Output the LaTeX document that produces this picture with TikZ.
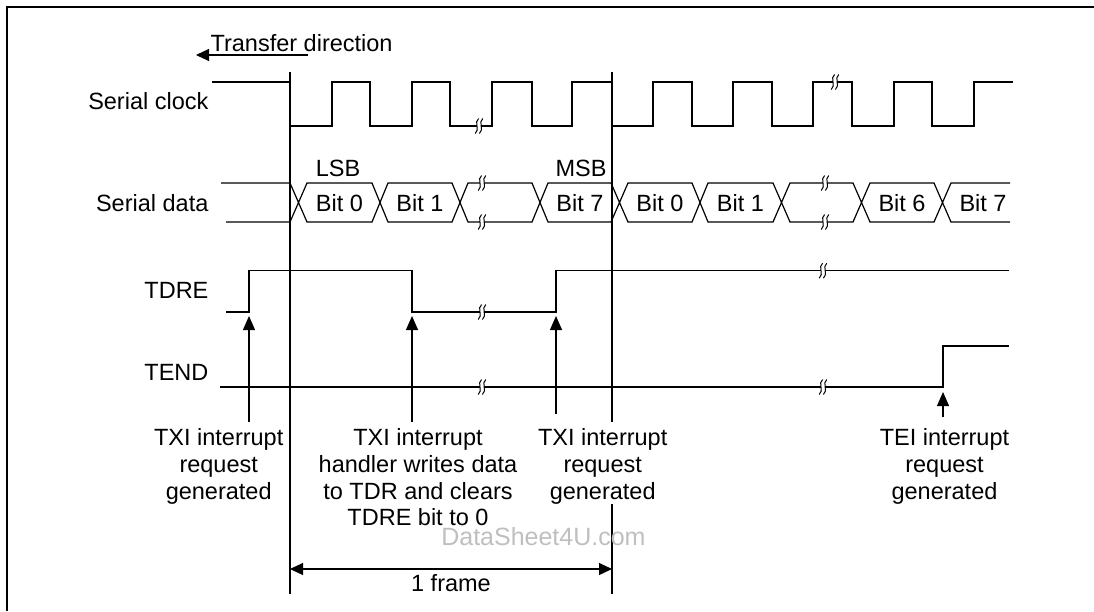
\documentclass[tikz,border=0pt]{standalone}
\usepackage{fontspec}
\setmainfont{Liberation Sans}
\usetikzlibrary{arrows.meta}
\begin{document}
\begin{tikzpicture}[x=1pt,y=-1pt,line width=1.2pt,line join=miter,
  every node/.style={inner sep=0pt,font=\fontsize{23.5}{26.7}\selectfont},
  uptip/.style={-{Triangle[width=12pt,length=14pt]}},
  lbl/.style={anchor=base east},
  bitlbl/.style={anchor=base},
  note/.style={anchor=north,align=center},
  brk/.pic={
    \fill[white] (-2.2,-8) rectangle (2.2,8);
    \draw[line width=1pt] (-0.4,-7.5) .. controls (-5.5,-4) and (1.5,3.5) .. (-3.8,7.5);
    \draw[line width=1pt] (3.8,-7.5) .. controls (-1.3,-4) and (5.7,3.5) .. (0.4,7.5);
  }]
\useasboundingbox (0,0) rectangle (1094,611);
% frame border
\draw[line width=1.5pt] (7,611) -- (7,7) -- (1094,7);

% transfer direction
\node[anchor=base west] (tdir) at (210,51) {Transfer direction};
\coordinate (tdirA) at (308,55);
\coordinate (tdirB) at (196,55);
\draw[-{Triangle[width=12pt,length=13pt]}] (tdirA) -- (tdirB);

% frame lines
\coordinate (f1t) at (290,72); \coordinate (f1b) at (290,594);
\coordinate (f2t) at (612,72); \coordinate (f2m) at (612,422);
\coordinate (f2n) at (612,504); \coordinate (f2b) at (612,594);
\draw (f1t) -- (f1b);
\draw (f2t) -- (f2m);
\draw (f2n) -- (f2b);

% labels
\node[lbl] (sclk) at (209,109.5) {Serial clock};
\node[lbl] (sdat) at (209,211.5) {Serial data};
\node[lbl] (tdre) at (209,298) {TDRE};
\node[lbl] (tend) at (209,380) {TEND};

% serial clock
\draw (212,82) -- (290,82) -- (290,126) -- (332,126) -- (332,82) -- (370,82) -- (370,126)
  -- (412,126) -- (412,82) -- (450,82) -- (450,126) -- (492,126) -- (492,82) -- (532,82)
  -- (532,126) -- (572,126) -- (572,82) -- (612,82) -- (612,126) -- (653,126) -- (653,82)
  -- (692,82) -- (692,126) -- (733,126) -- (733,82) -- (772,82) -- (772,126) -- (813,126)
  -- (813,82) -- (852,82) -- (852,126) -- (894,126) -- (894,82) -- (932,82) -- (932,126)
  -- (974,126) -- (974,82) -- (1013,82);
\pic at (479,126) {brk};
\pic at (835,82) {brk};

% serial data
\draw (221,183) -- (290,183) -- (298.5,202.5) -- (307,183) -- (372,183) -- (380,202.5)
  -- (388,183) -- (452,183) -- (460,202.5) -- (468,183) -- (532,183) -- (540,202.5)
  -- (548,183) -- (611,183) -- (619.5,202.5) -- (628,183) -- (692,183) -- (700,202.5)
  -- (708,183) -- (773,183) -- (781.5,202.5) -- (790,183) -- (853,183) -- (861.5,202.5)
  -- (870,183) -- (934,183) -- (942.5,202.5) -- (951,183) -- (1010,183);
\draw (226,222) -- (290,222) -- (298.5,202.5) -- (307,222) -- (372,222) -- (380,202.5)
  -- (388,222) -- (452,222) -- (460,202.5) -- (468,222) -- (532,222) -- (540,202.5)
  -- (548,222) -- (611,222) -- (619.5,202.5) -- (628,222) -- (692,222) -- (700,202.5)
  -- (708,222) -- (773,222) -- (781.5,202.5) -- (790,222) -- (853,222) -- (861.5,202.5)
  -- (870,222) -- (934,222) -- (942.5,202.5) -- (951,222) -- (1010,222);
\pic at (482,183) {brk};
\pic at (482,222) {brk};
\pic at (825,183) {brk};
\pic at (825,222) {brk};
\node[bitlbl] (lsb) at (338,176.7) {LSB};
\node[bitlbl] (msb) at (581,176.7) {MSB};
\node[bitlbl] (b0a) at (339.5,211.7) {Bit 0};
\node[bitlbl] (b1a) at (420,211.7) {Bit 1};
\node[bitlbl] (b7a) at (580,211.7) {Bit 7};
\node[bitlbl] (b0b) at (660,211.7) {Bit 0};
\node[bitlbl] (b1b) at (740.5,211.7) {Bit 1};
\node[bitlbl] (b6b) at (902,211.7) {Bit 6};
\node[bitlbl] (b7b) at (983,211.7) {Bit 7};

% TDRE
\draw (226,312) -- (249,312) -- (249,270.7) -- (412,270.7) -- (412,312) -- (556,312)
  -- (556,270.7) -- (1009,270.7);
\pic at (482,312) {brk};
\pic at (823,270.7) {brk};

% TEND
\draw (220,387) -- (943,387) -- (943,346) -- (1009,346);
\pic at (482,387) {brk};
\pic at (823,387) {brk};

% notes and arrows
\node[note] (n1) at (218.7,428) {TXI interrupt\\request\\generated};
\node[note] (n2) at (418,428) {TXI interrupt\\handler writes data\\to TDR and clears\\TDRE bit to 0};
\node[note] (n3) at (602.7,428) {TXI interrupt\\request\\generated};
\node[note] (n4) at (944.5,428) {TEI interrupt\\request\\generated};
\coordinate (a1s) at (249,422); \coordinate (a1e) at (249,316);
\coordinate (a2s) at (412,422); \coordinate (a2e) at (412,316);
\coordinate (a3s) at (556,414); \coordinate (a3e) at (556,316);
\coordinate (a4s) at (943,417); \coordinate (a4e) at (943,392);
\draw[uptip] (a1s) -- (a1e);
\draw[uptip] (a2s) -- (a2e);
\draw[uptip] (a3s) -- (a3e);
\draw[uptip] (a4s) -- (a4e);

% watermark
\node[anchor=base west,text=black!25,font=\fontsize{25}{30}\selectfont] (wm) at (440.7,545) {DataSheet4U.com};

% 1 frame
\coordinate (d1) at (290,569); \coordinate (d2) at (612,569);
\draw[{Triangle[width=12pt,length=13pt]}-{Triangle[width=12pt,length=13pt]}] (d1) -- (d2);
\node[anchor=base] (frm) at (451,591.7) {1 frame};
\end{tikzpicture}
\end{document}
